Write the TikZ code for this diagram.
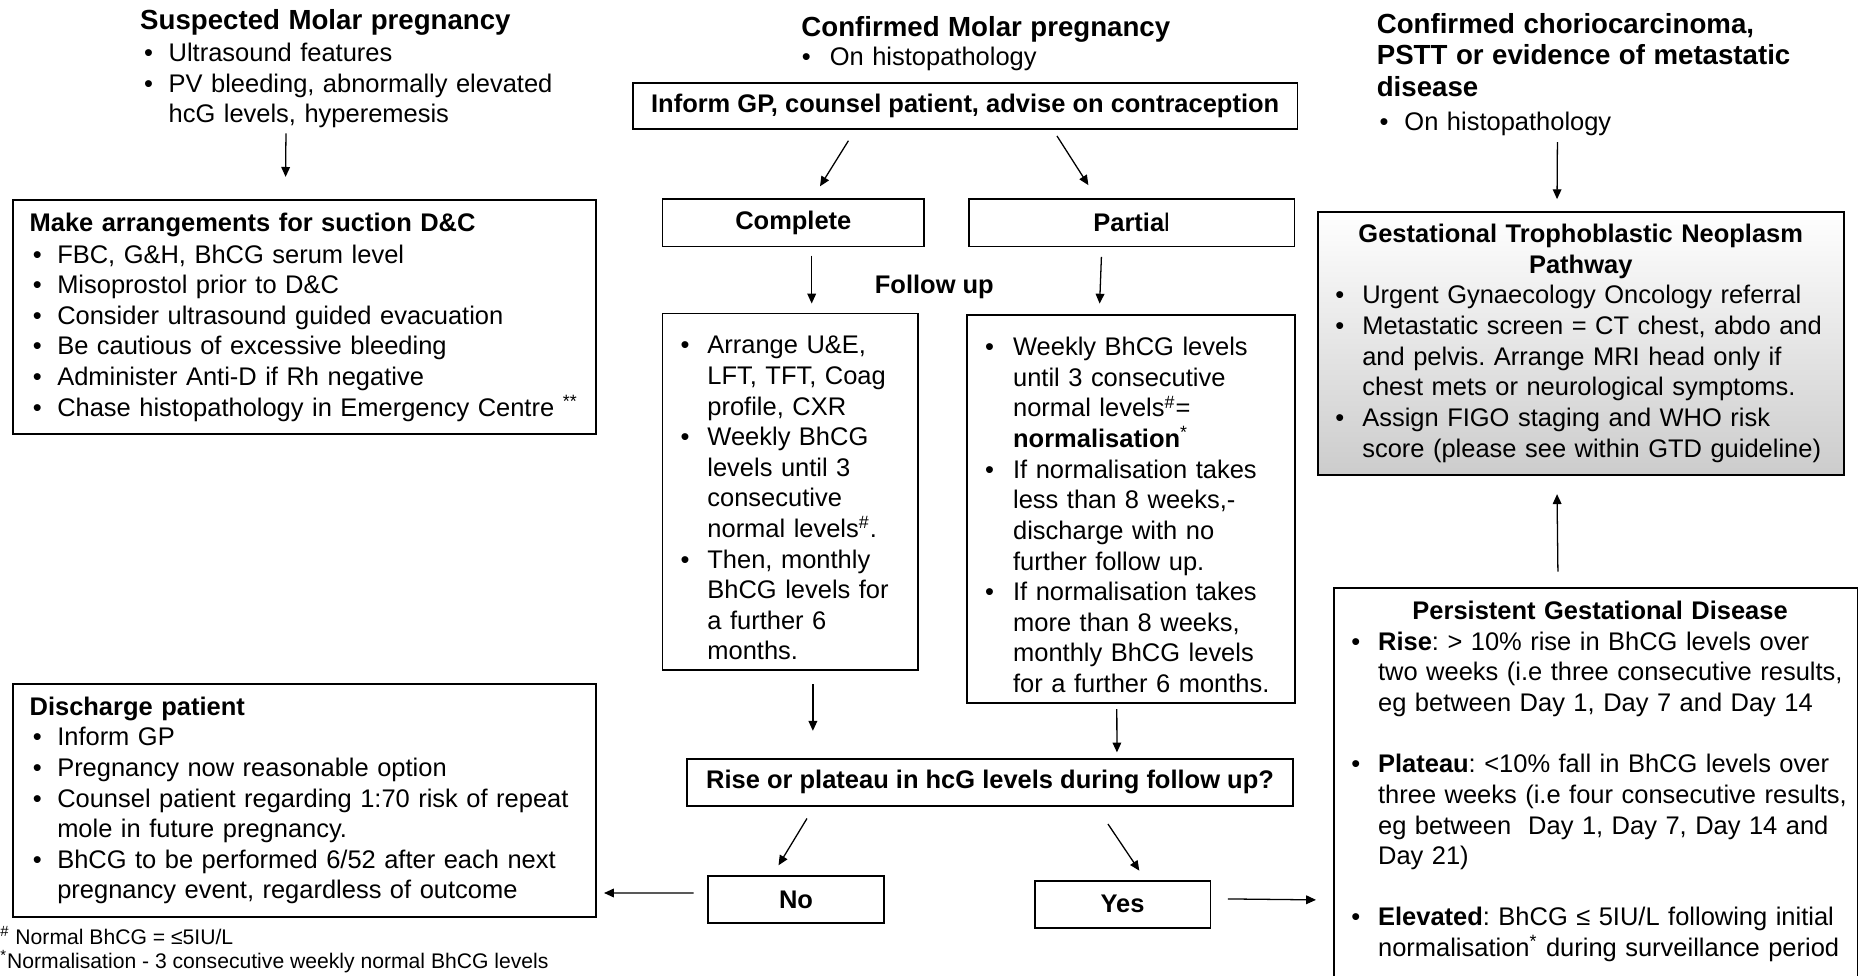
\documentclass[tikz,border=0pt]{standalone}
\usepackage{fontspec}
\setmainfont{Liberation Sans}
\usetikzlibrary{positioning,arrows.meta}

\newcommand\bodyfont{\fontsize{12.9pt}{15.5pt}\selectfont\frenchspacing}
\newcommand\ttlfont{\fontsize{14pt}{16.1pt}\selectfont\bfseries}
\newlength\bpre
\newlength\bind
\newcommand\itm[1]{\par\noindent\hangindent=\bind\hangafter=1\hbox to\bind{\hskip\bpre\textbullet\hfil}#1\par}

\tikzset{
  box/.style={draw, line width=0.9pt, inner ysep=0pt, align=left},
  hdr/.style={draw, line width=0.9pt, inner sep=0pt, font=\bodyfont\bfseries},
  txt/.style={inner sep=0pt, align=left},
  arr/.style={-{Triangle[length=5pt,width=4.4pt]}, line width=0.65pt},
  bul/.style 2 args={execute at begin node={\setlength\bpre{#1}\setlength\bind{#2}}},
}

\begin{document}
\begin{tikzpicture}[x=0.6pt, y=-0.6pt, font=\bodyfont]
\useasboundingbox (0,0) rectangle (1568,823);
\clip (0,0) rectangle (1568,823);

\node[txt, text width=240pt, anchor=base west, bul={2pt}{14.4pt}] (susp) at (118,24.7)
  {{\ttlfont Suspected Molar pregnancy\par}\vspace{0.9pt}
   \itm{Ultrasound features}
   \itm{PV bleeding, abnormally elevated\newline hcG levels, hyperemesis}};
\node[txt, text width=200pt, anchor=base west, bul={0.2pt}{14.4pt}] (conf) at (676,31)
  {{\ttlfont Confirmed Molar pregnancy\par}\vspace{-1.1pt}
   \itm{On histopathology}};
\node[txt, text width=216pt, anchor=base west, bul={1.4pt}{14pt}] (chorio) at (1161.6,28)
  {{\ttlfont Confirmed choriocarcinoma,\\PSTT or evidence of metastatic\\disease\par}\vspace{1.4pt}
   \itm{On histopathology}};

\node[box, inner xsep=8.4pt, text width=278.4pt, minimum width=295.2pt, minimum height=118.2pt, bul={1.7pt}{14pt}] (dc) at (257,267.5)
  {{\bfseries Make arrangements for suction D\&C\par}\vspace{0.7pt}
   \itm{FBC, G\&H, BhCG serum level}
   \itm{Misoprostol prior to D\&C}
   \itm{Consider ultrasound guided evacuation}
   \itm{Be cautious of excessive bleeding}
   \itm{Administer Anti-D if Rh negative}
   \itm{Chase histopathology in Emergency Centre \textsuperscript{**}}};
\node[box, inner xsep=8.4pt, text width=278.4pt, minimum width=295.2pt, minimum height=118.2pt, bul={1.7pt}{14pt}] (dis) at (257,675.5)
  {{\bfseries Discharge patient\par}
   \itm{Inform GP}
   \itm{Pregnancy now reasonable option}
   \itm{Counsel patient regarding 1:70 risk of repeat\newline mole in future pregnancy.}
   \itm{BhCG to be performed 6/52 after each next\newline pregnancy event, regardless of outcome}};

\node[hdr, minimum width=336.6pt, minimum height=23.4pt] (inform) at (814.5,89.5) {Inform GP, counsel patient, advise on contraception};
\node[hdr, minimum width=132.6pt, minimum height=24pt] (complete) at (669.5,188) {Complete};
\node[hdr, minimum width=165pt, minimum height=24pt, right=21.6pt of complete] (partial) {Partia\mdseries l};
\node[txt, font=\bodyfont\bfseries, anchor=base] (fu) at (788.5,247.5) {Follow up};

\node[box, inner xsep=7.8pt, text width=114pt, minimum width=129.6pt, minimum height=180.6pt, bul={1.4pt}{15pt}] (cfu) at (667,415)
  {\itm{Arrange U\&E,\newline LFT, TFT, Coag\newline profile, CXR}
   \itm{Weekly BhCG\newline levels until 3\newline consecutive\newline normal levels\textsuperscript{\#}.}
   \itm{Then, monthly\newline BhCG levels for\newline a further 6\newline months.}};
\node[box, inner xsep=7.8pt, text width=150.6pt, minimum width=166.2pt, minimum height=196.2pt, bul={1.4pt}{15.6pt}] (pfu) at (954.5,429.5)
  {\itm{Weekly BhCG levels\newline until 3 consecutive\newline normal levels\textsuperscript{\#}=\newline \textbf{normalisation}\textsuperscript{*}}
   \itm{If normalisation takes\newline less than 8 weeks,-\newline discharge with no\newline further follow up.}
   \itm{If normalisation takes\newline more than 8 weeks,\newline monthly BhCG levels\newline for a further 6 months.}};

\node[hdr, minimum width=306.6pt, minimum height=23.7pt] (rise) at (835.5,660.25) {Rise or plateau in hcG levels during follow up?};
\node[hdr, minimum width=89.1pt, minimum height=24pt] (no) at (671.75,759) {No};
\node[hdr, minimum width=89pt, minimum height=23.7pt, right=75.4pt of no, yshift=-2.5pt] (yes) {Yes};

\node[box, inner xsep=9pt, text width=248.4pt, minimum width=266.4pt, minimum height=133.3pt, top color=white, bottom color=black!20, bul={0pt}{13.6pt}] (gtn) at (1334,289.7)
  {{\centering\bfseries Gestational Trophoblastic Neoplasm\\Pathway\par}
   \itm{Urgent Gynaecology Oncology referral}
   \itm{Metastatic screen = CT chest, abdo and\newline and pelvis. Arrange MRI head only if\newline chest mets or neurological symptoms.}
   \itm{Assign FIGO staging and WHO risk\newline score (please see within GTD guideline)}};

\node[draw, line width=0.9pt, inner sep=0pt, anchor=north west, minimum width=265.2pt, minimum height=206.6pt] (pgd) at (1125,495.6) {};
\node[txt, text width=252pt, anchor=base west, bul={0pt}{13.6pt}] (pgdtxt) at (1140,523)
  {{\centering\bfseries Persistent Gestational Disease\par}
   \itm{\textbf{Rise}: > 10\% rise in BhCG levels over\newline two weeks (i.e three consecutive results,\newline eg between Day 1, Day 7 and Day 14}
   \mbox{}\par
   \itm{\textbf{Plateau}: <10\% fall in BhCG levels over\newline three weeks (i.e four consecutive results,\newline eg between\ \ Day 1, Day 7, Day 14 and\newline Day 21)}
   \mbox{}\par
   \itm{\textbf{Elevated}: BhCG ≤ 5IU/L following initial\newline normalisation\textsuperscript{*} during surveillance period}};

\node[txt, font=\fontsize{10.7pt}{12pt}\selectfont, anchor=base west] (fn1) at (0,797) {\textsuperscript{\#} Normal BhCG = ≤5IU/L};
\node[txt, font=\fontsize{10.7pt}{12pt}\selectfont, anchor=base west] (fn2) at (0,817.5) {\textsuperscript{*}Normalisation - 3 consecutive weekly normal BhCG levels};

\draw[arr] ([shift={(-77,4)}]susp.south) -- ([shift={(-16,-19)}]dc.north);
\draw[arr] ([shift={(-98.5,9)}]inform.south) -- ([shift={(22.5,-10)}]complete.north);
\draw[arr] ([shift={(77.5,5)}]inform.south) -- ([shift={(-36.5,-11)}]partial.north);
\draw[arr] ([shift={(15.5,7)}]complete.south) -- ([shift={(18,-7.6)}]cfu.north);
\draw[arr] ([shift={(-25.5,8)}]partial.south) -- ([shift={(-26.5,-9)}]pfu.north);
\draw[arr] ([shift={(19,11)}]cfu.south) -- ([shift={(-149.5,-23)}]rise.north);
\draw[arr] ([shift={(-12,4.7)}]pfu.south) -- ([shift={(107.1,-4.8)}]rise.north);
\draw[arr] ([shift={(-154.5,10)}]rise.south) -- ([shift={(-14.75,-8)}]no.north);
\draw[arr] ([shift={(99.5,14.6)}]rise.south) -- ([shift={(14.15,-7.9)}]yes.north);
\draw[arr] ([shift={(-11.5,-5.4)}]no.west) -- ([shift={(6,78.1)}]dis.east);
\draw[arr] ([shift={(14,-4.55)}]yes.east) -- ([shift={(-14.4,90.9)}]pgd.west);
\draw[arr] ([shift={(-27.6,5.4)}]chorio.south) -- ([shift={(-20,-9.8)}]gtn.north);
\draw[arr] ([shift={(-32,-13.2)}]pgd.north) -- ([shift={(-20,15.5)}]gtn.south);
\end{tikzpicture}
\end{document}
